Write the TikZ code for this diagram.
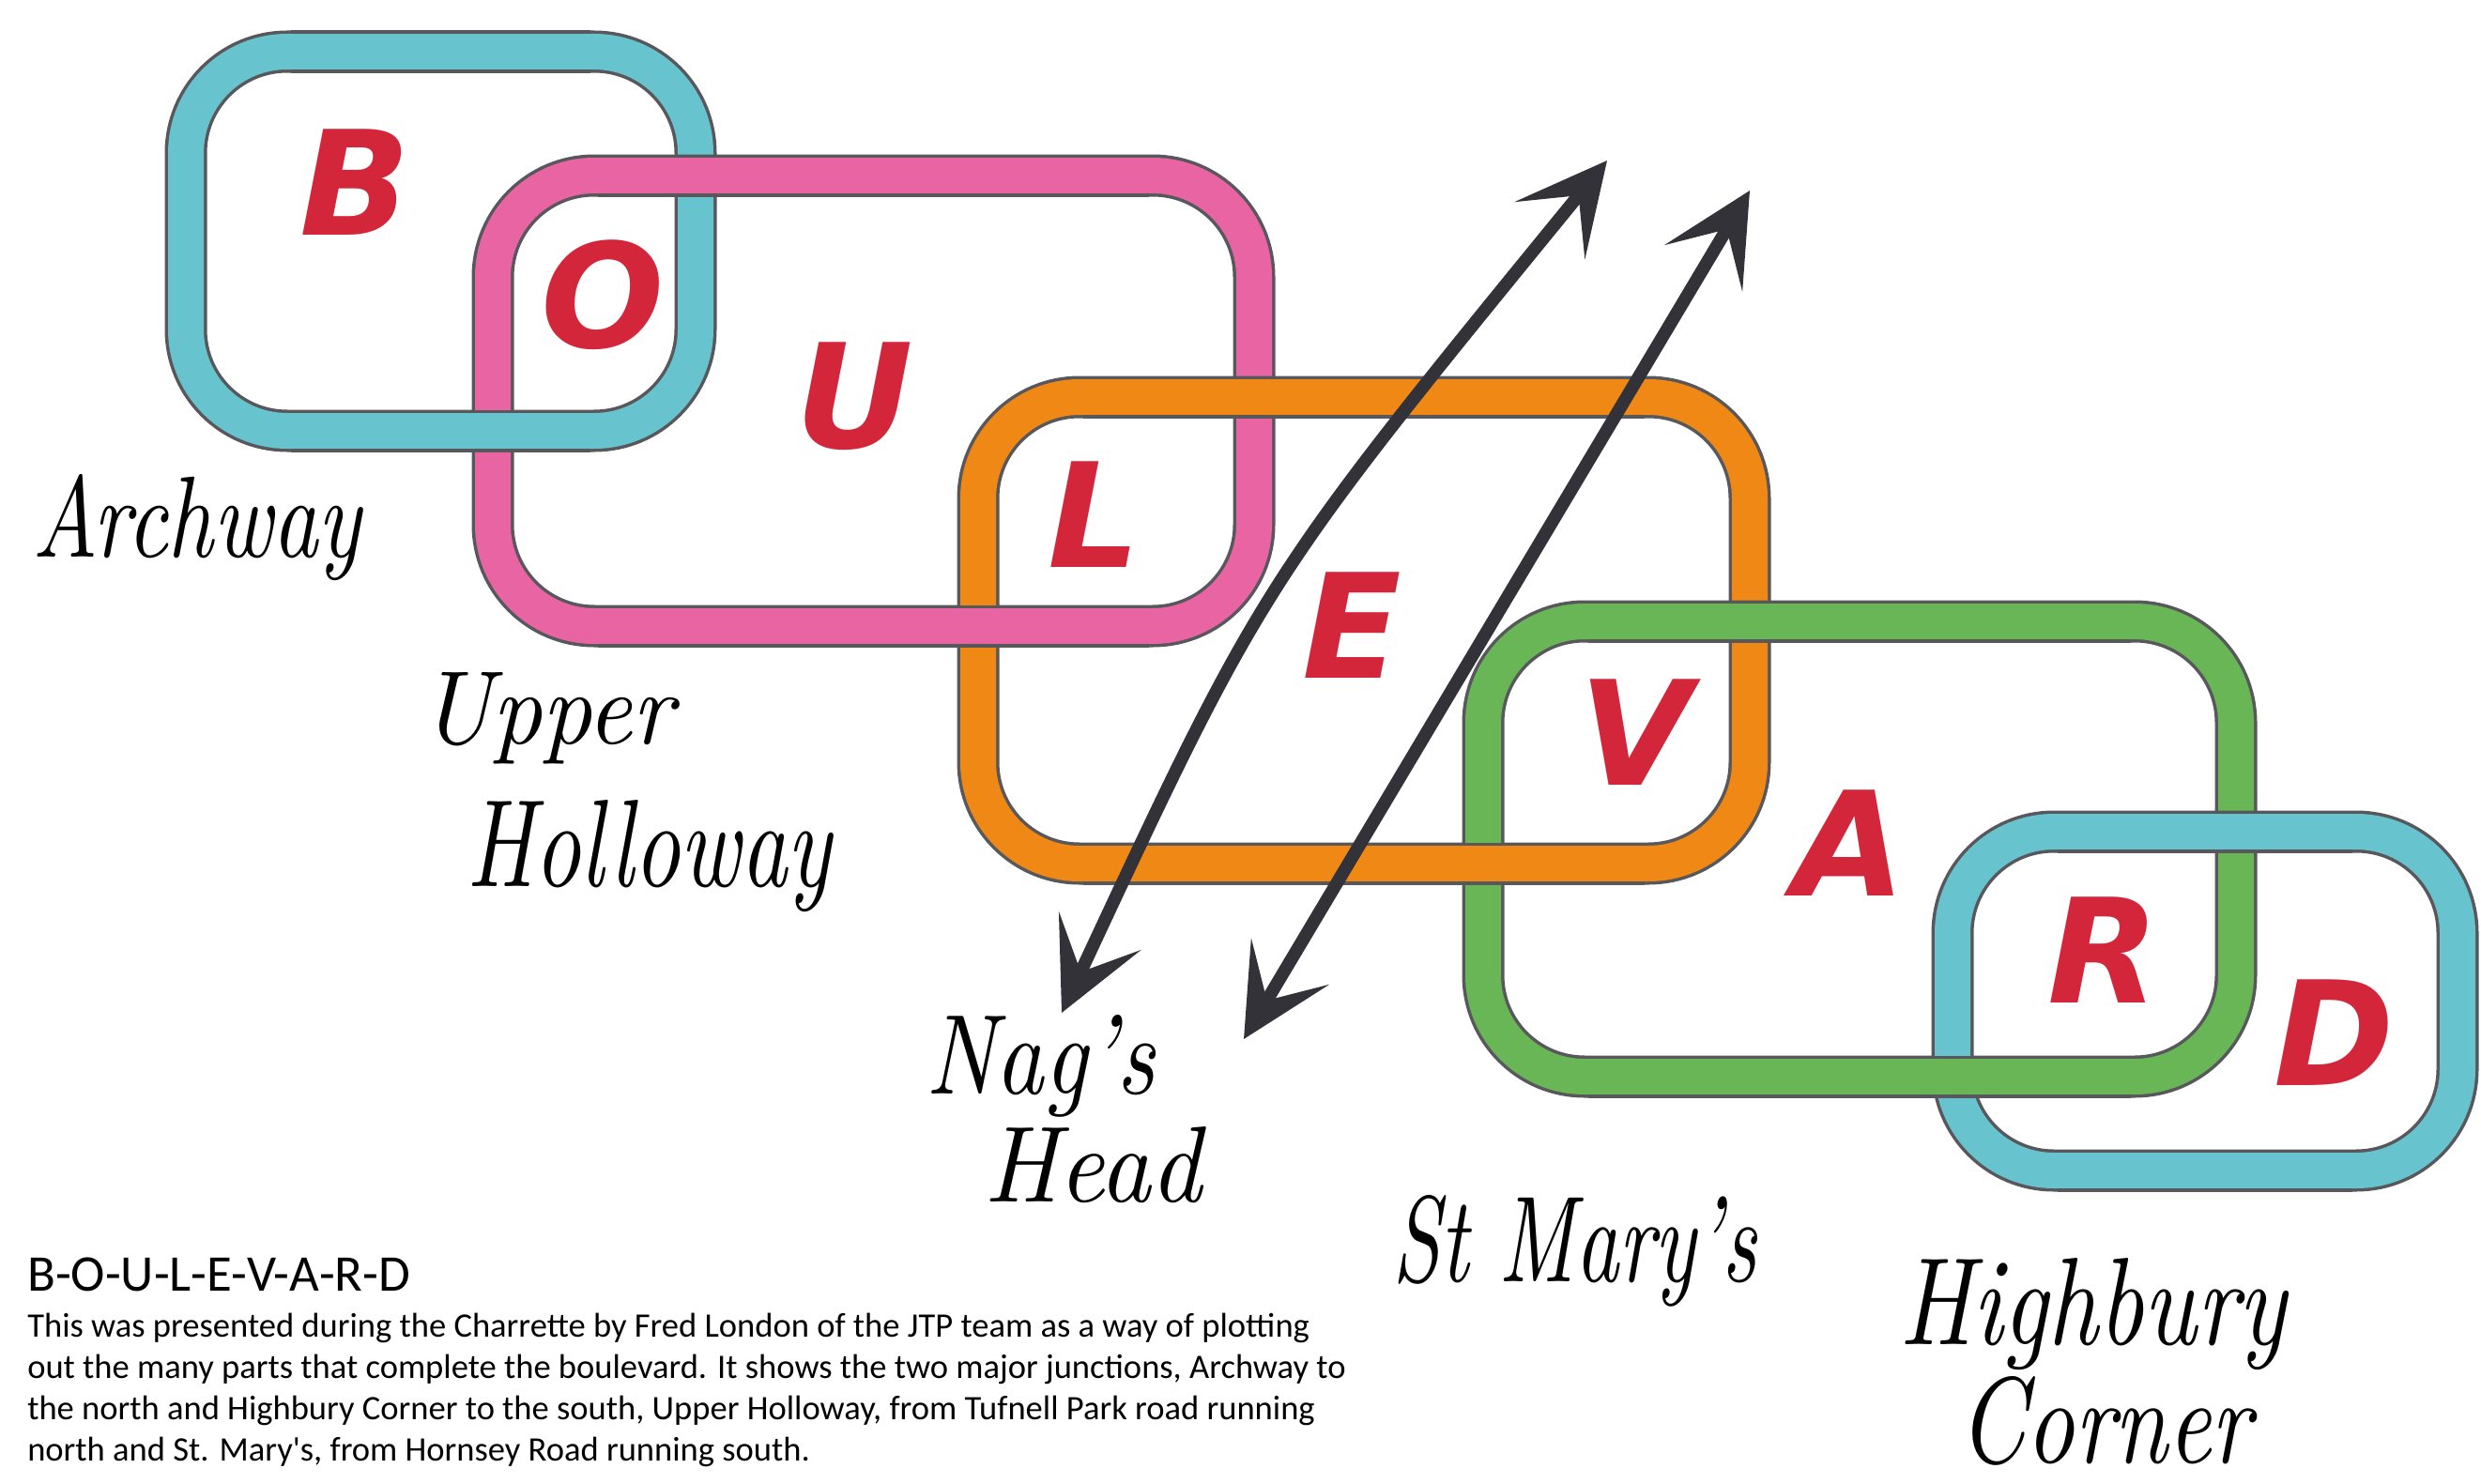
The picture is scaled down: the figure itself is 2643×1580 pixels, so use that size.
\documentclass[tikz,border=0pt]{standalone}
\usepackage{fontspec}
\usepackage{graphicx}
\usetikzlibrary{arrows.meta}
\newfontfamily\capfont{Carlito}
\newfontfamily\markfont{DejaVu Sans}
\definecolor{ringcyan}{RGB}{103,196,206}
\definecolor{ringpink}{RGB}{232,100,162}
\definecolor{ringorange}{RGB}{240,136,22}
\definecolor{ringgreen}{RGB}{105,182,86}
\definecolor{rimgray}{RGB}{88,88,92}
\definecolor{markred}{RGB}{212,38,58}
\definecolor{pen}{RGB}{50,50,56}
\newcommand{\hand}[3]{\resizebox{#1}{#2}{\itshape #3}}
\tikzset{
  >={Stealth[length=24mm,width=24mm,inset=12mm]},
  rim/.style={line width=11.25mm,draw=rimgray},
  band/.style={line width=9.5mm},
  ltr/.style={font=\markfont\bfseries\itshape\fontsize{110}{110}\selectfont,text=markred,inner sep=0pt},
  lbl/.style={anchor=base west,inner sep=0pt},
  captext/.style={anchor=base west,inner sep=0pt,font=\capfont\fontsize{26}{30}\selectfont},
  arw/.style={<->,draw=pen,line width=3.4mm},
}

\begin{document}
\begin{tikzpicture}[x=0.25mm,y=-0.25mm]
\useasboundingbox (0,0) rectangle (2643,1580);
% the five rings
\foreach \c/\xa/\ya/\xb/\yb in {ringcyan/198/55/741/459,ringpink/525/187/1336/667,
    ringorange/1042/423/1864/920,ringgreen/1580/662/2382/1147,ringcyan/2080/886/2618/1247}{
  \draw[rim,rounded corners=27mm] (\xa,\ya) rectangle (\xb,\yb);
  \draw[band,draw=\c,rounded corners=27mm] (\xa,\ya) rectangle (\xb,\yb);
}
% top and bottom sides pass over the next ring
\foreach \c/\xa/\ya/\xb/\yb in {ringcyan/198/55/741/459,ringpink/525/187/1336/667,
    ringorange/1042/423/1864/920,ringgreen/1580/662/2382/1147,ringcyan/2080/886/2618/1247}{
  \foreach \y in {\ya,\yb}{
    \draw[rim] ({\xa+112},\y) -- ({\xb-112},\y);
    \draw[band,draw=\c] ({\xa+112},\y) -- ({\xb-112},\y);
  }
}
% letters
\node[ltr] (lB) at (378,194) {B}; \node[ltr] (lO) at (642,314) {O};
\node[ltr] (lU) at (910,422) {U}; \node[ltr] (lL) at (1166,548) {L};
\node[ltr] (lE) at (1440,666) {E}; \node[ltr] (lV) at (1742,780) {V};
\node[ltr] (lA) at (1970,898) {A}; \node[ltr] (lR) at (2241,1012) {R};
\node[ltr] (lD) at (2487,1100) {D};
% place names
\node[lbl] (archway) at (34,593) {\hand{87.5mm}{22mm}{Archway}};
\node[lbl] (upper) at (447,792) {\hand{67.5mm}{19mm}{Upper}};
\node[lbl] (holloway) at (497,944) {\hand{97mm}{23mm}{Holloway}};
\node[lbl] (nags) at (986,1165) {\hand{61mm}{21mm}{Nag's}};
\node[lbl] (head) at (1048,1280) {\hand{58mm}{20mm}{Head}};
\node[lbl] (stmarys) at (1483,1365) {\hand{97mm}{23mm}{St Mary's}};
\node[lbl] (highbury) at (2023,1432) {\hand{103mm}{23mm}{Highbury}};
\node[lbl] (corner) at (2086,1558) {\hand{78mm}{23mm}{Corner}};
% arrows
\coordinate (n1) at (1712,171); \coordinate (s1) at (1131,1079); \coordinate (bow) at (1345,620);
\coordinate (n2) at (1864,203); \coordinate (s2) at (1325,1107);
\draw[arw] (s1) .. controls (bow) .. (n1);
\draw[arw] (s2) -- (n2);
% caption
\node[captext,font=\capfont\fontsize{39}{44}\selectfont] (title) at (29,1375) {B-O-U-L-E-V-A-R-D};
\node[captext] (c1) at (29,1424) {This was presented during the Charrette by Fred London of the JTP team as a way of plotting};
\node[captext] (c2) at (29,1468) {out the many parts that complete the boulevard. It shows the two major junctions, Archway to};
\node[captext] (c3) at (29,1512) {the north and Highbury Corner to the south, Upper Holloway, from Tufnell Park road running};
\node[captext] (c4) at (29,1556) {north and St. Mary's, from Hornsey Road running south.};
\end{tikzpicture}
\end{document}
